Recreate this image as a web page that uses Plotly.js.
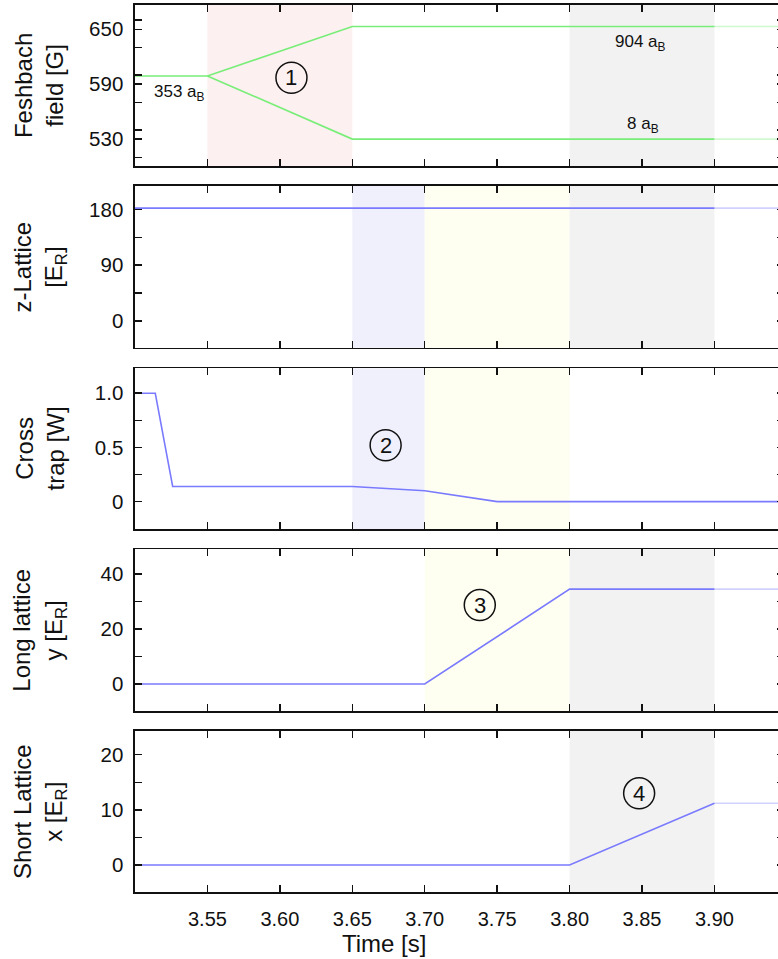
<!DOCTYPE html>
<html>
<head>
<meta charset="utf-8">
<script src="https://cdn.plot.ly/plotly-3.0.1.min.js"></script>
<style>
html,body{margin:0;padding:0;overflow:hidden;background:#fff;}
#chart{width:784px;height:959px;}
</style>
</head>
<body>
<div id="chart"></div>
<script>
// ---- data ----
const tailT = [3.90, 3.948];

const fbUpT = [3.50, 3.55, 3.65, 3.90];
const fbUp  = [599, 599, 653, 653];
const fbLoT = [3.55, 3.65, 3.90];
const fbLo  = [599, 530, 530];
const fbUpTail = [653, 653];
const fbLoTail = [530, 530];

const zT = [3.50, 3.90];
const zLat = [182, 182];
const zTail = [182, 182];

const crossT = [3.50, 3.514, 3.526, 3.65, 3.70, 3.75, 3.948];
const cross  = [1.0, 1.0, 0.14, 0.14, 0.10, 0, 0];

const longT = [3.50, 3.70, 3.80, 3.90];
const longY = [0, 0, 34.5, 34.5];
const longTail = [34.5, 34.5];

const shortT = [3.50, 3.80, 3.90];
const shortX = [0, 0, 11.2];
const shortTail = [11.2, 11.2];

const xTicks = [3.55, 3.60, 3.65, 3.70, 3.75, 3.80, 3.85, 3.90];
const xTickText = ['3.55','3.60','3.65','3.70','3.75','3.80','3.85','3.90'];

const panelTitles = ['Feshbach<br>field [G]', 'z-Lattice<br>[E<sub>R</sub>]', 'Cross<br>trap [W]',
                     'Long lattice<br>y [E<sub>R</sub>]', 'Short Lattice<br>x [E<sub>R</sub>]'];
const yTickVals = [[530, 590, 650], [0, 90, 180], [0, 0.5, 1.0], [0, 20, 40], [0, 10, 20]];
const yTickText = [['530','590','650'], ['0','90','180'], ['0','0.5','1.0'], ['0','20','40'], ['0','10','20']];
const yMinorStep = [30, 45, 0.25, 10, 5];

const shadeStart = [3.55, 3.65, 3.70, 3.80];
const shadeEnd   = [3.65, 3.70, 3.80, 3.90];
const shadeColor = ['rgb(253,240,240)', 'rgb(240,240,253)', 'rgb(254,254,241)', 'rgb(242,242,242)'];
const shadePanels = [[1], [2, 3], [2, 3, 4], [1, 2, 4, 5]];

const stepLabels = ['1', '2', '3', '4'];
const stepX = [3.608, 3.673, 3.738, 3.848];
const stepY = [597, 0.52, 28.7, 13];
const stepPanel = [1, 3, 4, 5];

const scatLabels = ['353 a<sub>B</sub>', '904 a<sub>B</sub>', '8 a<sub>B</sub>'];
const scatX = [3.531, 3.849, 3.851];
const scatY = [580, 634.7, 545];

// ---- styling / layout ----
const GREEN = 'rgb(120,238,120)';
const GREEN_F = 'rgba(120,238,120,0.35)';
const BLUE = 'rgb(122,122,255)';
const BLUE_F = 'rgba(122,122,255,0.35)';
const FONT = 'Liberation Sans, Arial, sans-serif';

const yRanges = [[500.6, 676.5], [-43.1, 217.6], [-0.255, 1.23], [-9.8, 49], [-4.9, 24.3]];
const domains = [[0.8185, 1.0], [0.6136, 0.7959], [0.4089, 0.5904], [0.2041, 0.3864], [0.0, 0.1815]];

function ax(i){ return i === 1 ? '' : String(i); }

const traces = [];
function line(i, x, y, color){
  traces.push({x: x, y: y, xaxis: 'x' + ax(i), yaxis: 'y' + ax(i), type: 'scatter', mode: 'lines',
    line: {color: color, width: 1.6}, hoverinfo: 'skip', showlegend: false});
}
line(1, fbUpT, fbUp, GREEN);
line(1, fbLoT, fbLo, GREEN);
line(1, tailT, fbUpTail, GREEN_F);
line(1, tailT, fbLoTail, GREEN_F);
line(2, zT, zLat, BLUE);
line(2, tailT, zTail, BLUE_F);
line(3, crossT, cross, BLUE);
line(4, longT, longY, BLUE);
line(4, tailT, longTail, BLUE_F);
line(5, shortT, shortX, BLUE);
line(5, tailT, shortTail, BLUE_F);

const layout = {
  width: 784, height: 959,
  margin: {l: 135, r: 0, t: 5, b: 67},
  paper_bgcolor: '#fff', plot_bgcolor: 'rgba(0,0,0,0)',
  font: {family: FONT, size: 20, color: '#111'},
  showlegend: false,
  shapes: [], annotations: []
};

for (let i = 1; i <= 5; i++){
  const k = i - 1;
  layout['xaxis' + ax(i)] = {
    domain: [0, 1], anchor: 'y' + ax(i), range: [3.5, 3.948],
    tickvals: xTicks, ticktext: xTickText, showticklabels: i === 5,
    ticks: 'inside', ticklen: 7, tickwidth: 1.5, tickcolor: '#111',
    showline: true, linecolor: '#111', linewidth: 1.6, mirror: 'ticks',
    showgrid: false, zeroline: false, ticklabelstandoff: 8,
    tickfont: {family: FONT, size: 20, color: '#111'}
  };
  if (i !== 1) layout['xaxis' + ax(i)].matches = 'x';
  layout['yaxis' + ax(i)] = {
    domain: domains[k], anchor: 'x' + ax(i), range: yRanges[k],
    tickvals: yTickVals[k], ticktext: yTickText[k],
    ticks: 'inside', ticklen: 7, tickwidth: 1.5, tickcolor: '#111',
    minor: {dtick: yMinorStep[k], tick0: 0, ticks: 'inside', ticklen: 7, tickwidth: 1.5, tickcolor: '#111'},
    showline: true, linecolor: '#111', linewidth: 1.6, mirror: 'ticks',
    showgrid: false, zeroline: false, ticklabelstandoff: 6,
    tickfont: {family: FONT, size: 20.5, color: '#111'}
  };
  // panel title as rotated annotation (aligned across panels)
  layout.annotations.push({
    xref: 'paper', yref: 'paper', x: -0.147, y: (domains[k][0] + domains[k][1]) / 2,
    text: panelTitles[k], textangle: -90, showarrow: false,
    xanchor: 'center', yanchor: 'middle',
    font: {family: FONT, size: 24, color: '#111'}
  });
}

// shading bands
shadeStart.forEach((s, j) => {
  shadePanels[j].forEach(p => {
    layout.shapes.push({type: 'rect', xref: 'x' + ax(p), yref: 'y' + ax(p) + ' domain',
      x0: s, x1: shadeEnd[j], y0: 0, y1: 1, fillcolor: shadeColor[j], line: {width: 0}, layer: 'below'});
  });
});

// circled step numbers
stepLabels.forEach((lab, j) => {
  const p = stepPanel[j];
  layout.shapes.push({type: 'circle', xref: 'x' + ax(p), yref: 'y' + ax(p),
    xsizemode: 'pixel', ysizemode: 'pixel', xanchor: stepX[j], yanchor: stepY[j],
    x0: -15.5, x1: 15.5, y0: -15.5, y1: 15.5, line: {color: '#111', width: 1.5}, layer: 'above'});
  layout.annotations.push({xref: 'x' + ax(p), yref: 'y' + ax(p), x: stepX[j], y: stepY[j],
    text: lab, showarrow: false, xanchor: 'center', yanchor: 'middle',
    font: {family: FONT, size: 22, color: '#111'}});
});

// scattering length labels
scatLabels.forEach((lab, j) => {
  layout.annotations.push({xref: 'x', yref: 'y', x: scatX[j], y: scatY[j], text: lab,
    showarrow: false, xanchor: 'center', yanchor: 'middle',
    font: {family: FONT, size: 17, color: '#111'}});
});

// x-axis title
layout.annotations.push({xref: 'paper', yref: 'paper', x: 0.384, y: -0.0575, text: 'Time [s]',
  showarrow: false, xanchor: 'center', yanchor: 'middle', font: {family: FONT, size: 24, color: '#111'}});

Plotly.newPlot('chart', traces, layout, {staticPlot: true, displayModeBar: false});
</script>
</body>
</html>
